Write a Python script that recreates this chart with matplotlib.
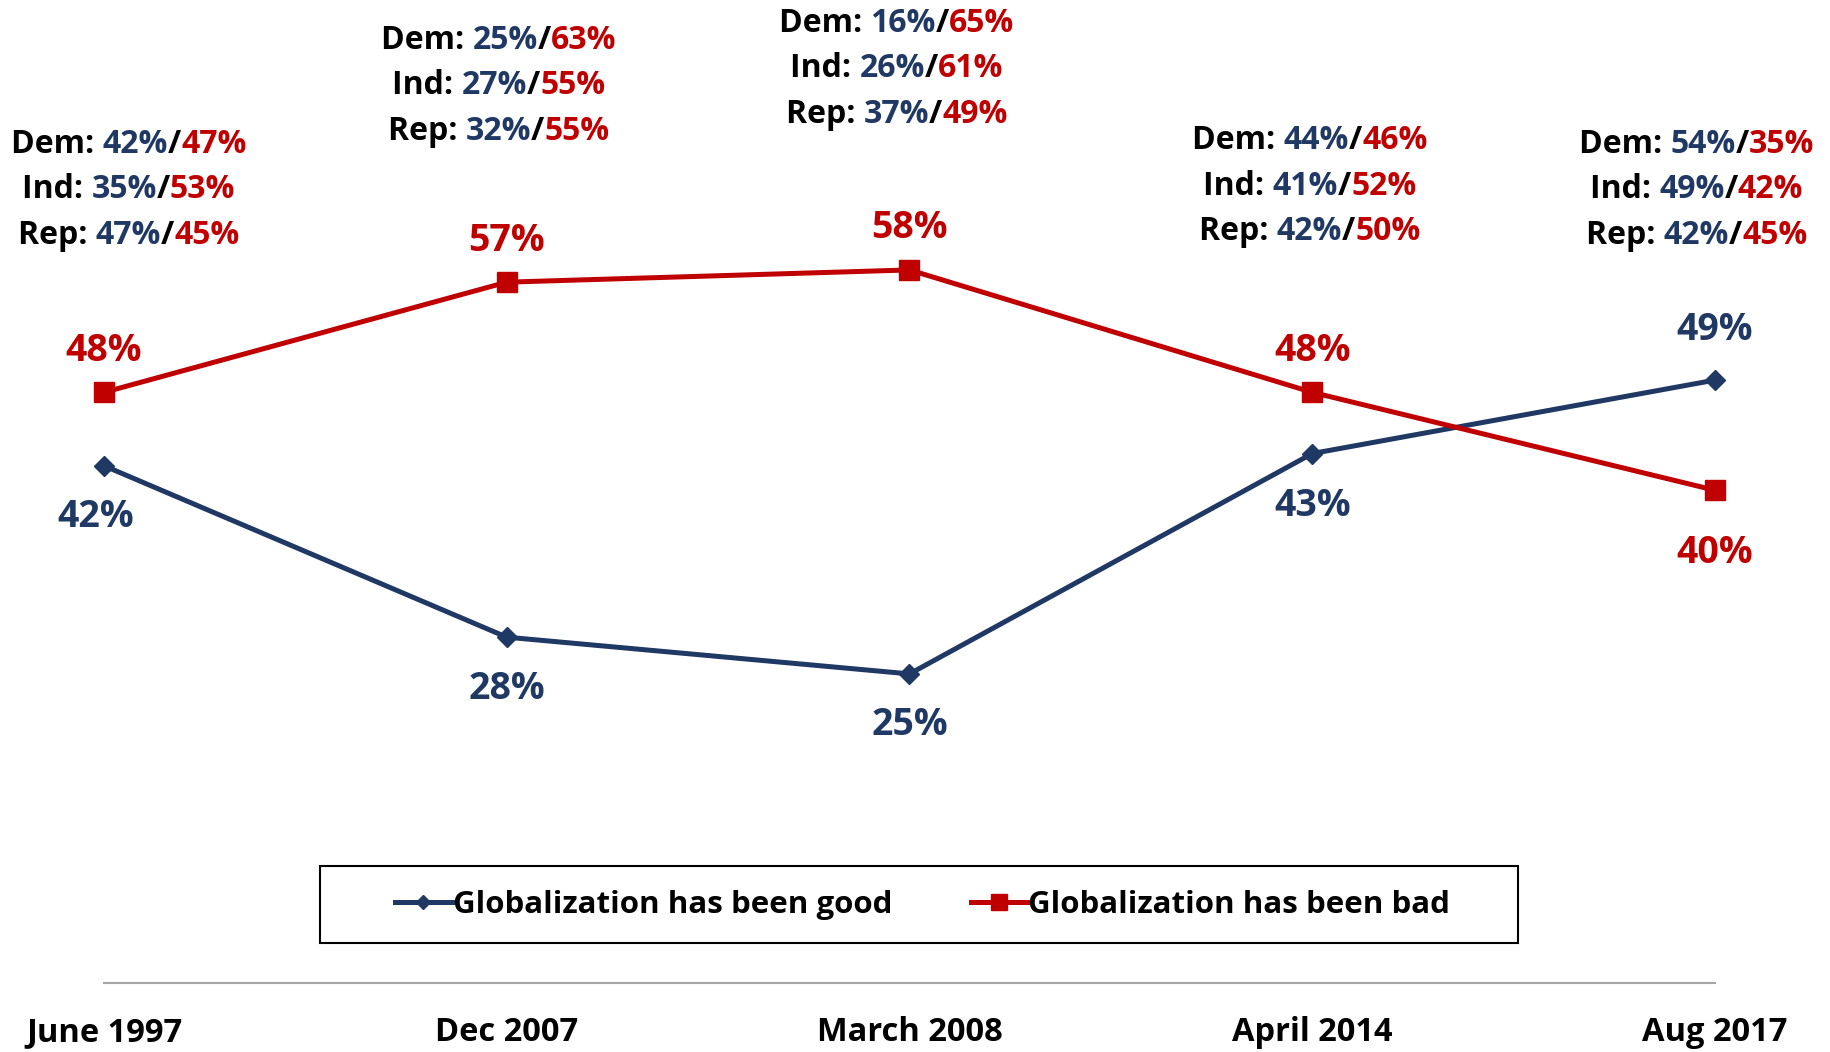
import matplotlib
matplotlib.use('Agg')
import matplotlib.pyplot as plt
from matplotlib.patches import Rectangle
from matplotlib.offsetbox import TextArea, HPacker, VPacker, AnnotationBbox

plt.rcParams['font.family'] = ['Open Sans', 'DejaVu Sans']
plt.rcParams['font.weight'] = 'bold'

BLUE = '#1F3864'
RED = '#C00000'

# data
dates = ['June 1997', 'Dec 2007', 'March 2008', 'April 2014', 'Aug 2017']
good = [42, 28, 25, 43, 49]
bad = [48, 57, 58, 48, 40]

# party breakdown (good / bad)
dem = [(42, 47), (25, 63), (16, 65), (44, 46), (54, 35)]
ind = [(35, 53), (27, 55), (26, 61), (41, 52), (49, 42)]
rep = [(47, 45), (32, 55), (37, 49), (42, 50), (42, 45)]

W, H = 1831, 1052
fig = plt.figure(figsize=(W / 100, H / 100), dpi=100)
ax = fig.add_axes([104 / W, 1 - 983 / H, (1715 - 104) / W, 983 / H])
ax.set_xlim(0, 4)
ax.set_ylim(-0.25, 80.05)
x = list(range(len(dates)))

ax.plot(x, good, color=BLUE, lw=3.6, marker='D', ms=10, label='Globalization has been good', clip_on=False)
ax.plot(x, bad, color=RED, lw=3.6, marker='s', ms=14.5, label='Globalization has been bad', clip_on=False)

# value label offsets (points)
good_dy = [-37, -37, -37, -38, 36]
good_dx = [-6, 0, 0, 0, 0]
bad_dy = [30, 30, 30, 30, -45]
for i in x:
    ax.annotate(f'{good[i]}%', (i, good[i]), xytext=(good_dx[i], good_dy[i]), textcoords='offset points',
                ha='center', va='center', color=BLUE, fontsize=27, fontweight='bold')
    ax.annotate(f'{bad[i]}%', (i, bad[i]), xytext=(0, bad_dy[i]), textcoords='offset points',
                ha='center', va='center', color=RED, fontsize=27, fontweight='bold')

# party breakdown boxes (x offset in data units, top in value units)
box_pos = [(0.061, 69.6), (-0.02, 78.1), (-0.032, 79.5), (-0.006, 69.9), (-0.046, 69.6)]


def party_line(name, vals):
    fs = 23
    parts = [(name + ': ', 'black'), (f'{vals[0]}%', BLUE), ('/', 'black'), (f'{vals[1]}%', RED)]
    areas = [TextArea(t, textprops=dict(color=c, fontsize=fs, fontweight='bold')) for t, c in parts]
    return HPacker(children=areas, pad=0, sep=0, align='baseline')


for i in x:
    rows = [party_line('Dem', dem[i]), party_line('Ind', ind[i]), party_line('Rep', rep[i])]
    box = VPacker(children=rows, pad=0, sep=9, align='center')
    ab = AnnotationBbox(box, (i + box_pos[i][0], box_pos[i][1]), xycoords='data',
                        box_alignment=(0.5, 1.0), frameon=False, annotation_clip=False)
    ax.add_artist(ab)

ax.set_xticks(x)
ax.set_xticklabels(dates, fontsize=23.5, fontweight='bold')
ax.tick_params(axis='x', length=0, pad=24)
ax.set_yticks([])
for s in ['top', 'left', 'right']:
    ax.spines[s].set_visible(False)
ax.spines['bottom'].set_color('#A6A6A6')
ax.spines['bottom'].set_linewidth(1.5)

# legend box drawn by hand, legend entries centred in it
fig.patches.append(Rectangle((320 / W, 1 - 943 / H), 1198 / W, 77 / H, transform=fig.transFigure,
                             facecolor='white', edgecolor='black', lw=1.5, zorder=0))
leg = fig.legend(loc='center', bbox_to_anchor=(0.504, 0.1397), ncol=2, fontsize=22.5,
                 frameon=False, handlelength=1.8, handletextpad=0.05, columnspacing=2.5,
                 markerscale=0.75)
for t in leg.get_texts():
    t.set_fontweight('bold')

plt.savefig('out.png', dpi=100)
